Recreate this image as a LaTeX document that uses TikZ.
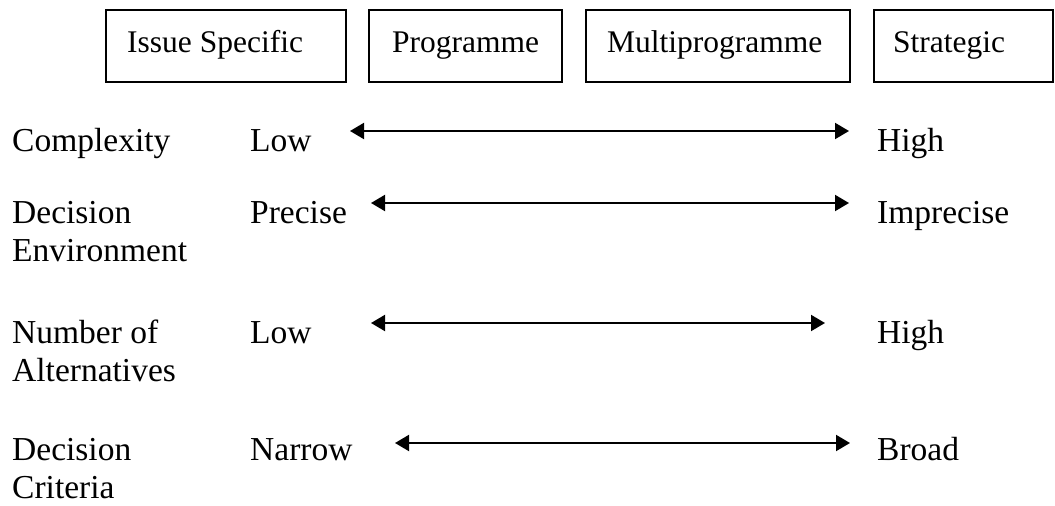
\documentclass[tikz,border=0pt]{standalone}
\usepackage{fontspec}
\setmainfont{Liberation Serif}
\usetikzlibrary{arrows.meta}
\begin{document}
\begin{tikzpicture}[x=1pt,y=-1pt,
  box/.style={draw, line width=1.6pt},
  boxtext/.style={anchor=base west, inner sep=0pt, font=\fontsize{31.5}{36}\selectfont},
  lbl/.style={anchor=base west, inner sep=0pt, align=left, font=\fontsize{33.5}{38}\selectfont},
  dbl/.style={line width=2pt, {Triangle[length=14pt,width=16pt]}-{Triangle[length=14pt,width=16pt]}}]
\useasboundingbox (0,0) rectangle (1055,506);
% top boxes
\draw[box] (106,10) rectangle (346,82);
\draw[box] (369,10) rectangle (562,82);
\draw[box] (586,10) rectangle (850,82);
\draw[box] (874,10) rectangle (1053,82);
\node[boxtext] (b1) at (127,52) {Issue Specific};
\node[boxtext] (b2) at (392,52) {Programme};
\node[boxtext] (b3) at (607,52) {Multiprogramme};
\node[boxtext] (b4) at (893,52) {Strategic};
% row labels (base = last line)
\node[lbl] (r1) at (12,151) {Complexity};
\node[lbl] (r2) at (12,261) {Decision\\Environment};
\node[lbl] (r3) at (12,381) {Number of\\Alternatives};
\node[lbl] (r4) at (12,498) {Decision\\Criteria};
% left values
\node[lbl] (l1) at (250,151) {Low};
\node[lbl] (l2) at (250,223) {Precise};
\node[lbl] (l3) at (250,343) {Low};
\node[lbl] (l4) at (250,460) {Narrow};
% right values
\node[lbl] (h1) at (877,151) {High};
\node[lbl] (h2) at (877,223) {Imprecise};
\node[lbl] (h3) at (877,343) {High};
\node[lbl] (h4) at (877,460) {Broad};
% arrows
\coordinate (a1l) at (350,131); \coordinate (a1r) at (849,131);
\coordinate (a2l) at (371,203); \coordinate (a2r) at (849,203);
\coordinate (a3l) at (371,323); \coordinate (a3r) at (825,323);
\coordinate (a4l) at (395,443); \coordinate (a4r) at (850,443);
\draw[dbl] (a1l) -- (a1r);
\draw[dbl] (a2l) -- (a2r);
\draw[dbl] (a3l) -- (a3r);
\draw[dbl] (a4l) -- (a4r);
\end{tikzpicture}
\end{document}
